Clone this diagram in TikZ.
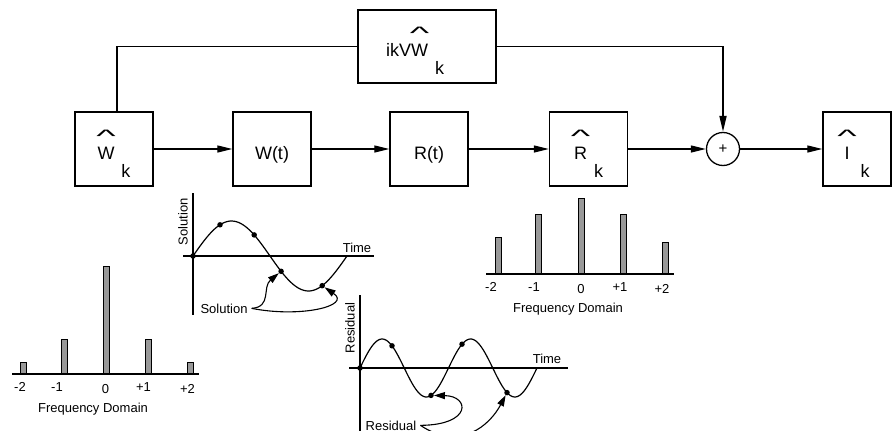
\documentclass[tikz,border=0pt]{standalone}
\usepackage{fontspec}
\setmainfont{Liberation Sans}
\usetikzlibrary{arrows.meta}

% letter with a wide hat and a low subscript k
\newcommand{\hatk}[3][7pt]{#2\ooalign{\hidewidth\raisebox{17pt}{\scalebox{2.3}[1]{\textasciicircum}}\hidewidth\cr#3\cr}\raisebox{-18pt}{\hspace{#1}k}}

\begin{document}
\begin{tikzpicture}[x=1pt, y=-1pt,
    blk/.style={draw, line width=1.3pt, inner sep=0pt, minimum width=78pt, minimum height=74pt, text height=30pt, text depth=10pt, font=\fontsize{18}{21}\selectfont},
    flow/.style={line width=1.1pt, -{Triangle[length=15pt,width=7pt]}},
    fb/.style={line width=1.8pt},
    axis/.style={line width=1.2pt},
    wave/.style={line width=1.2pt},
    dot/.style={circle, fill, inner sep=0pt, minimum size=5.5pt},
    bar/.style={draw, line width=0.9pt, fill=black!40},
    lbl/.style={font=\fontsize{13}{15}\selectfont, inner sep=0pt},
    ptr/.style={line width=1.1pt, -{Triangle[length=11pt,width=7pt]}}]
    \useasboundingbox (0,0) rectangle (892,431);

    % block chain
    \node[blk] (wk) at (114,149) {\hatk{}{W}};
    \node[blk] (wt) at (272,149) {W(t)};
    \node[blk] (rt) at (429,149) {R(t)};
    \node[blk] (rk) at (588.5,149) {\hatk{}{R}};
    \node[blk, minimum width=68pt] (ik) at (857,149) {\hatk[11pt]{}{I}};
    \node[blk, minimum width=138pt, minimum height=73pt] (ikv) at (427,46.5) {\hatk{ikV}{W}\hspace{24pt}\mbox{}};
    \node[draw, circle, line width=1.3pt, minimum size=33pt, inner sep=0pt, font=\fontsize{15}{17}\selectfont] (sum) at (723,149) {+};

    \draw[flow] (wk) -- (wt);
    \draw[flow] (wt) -- (rt);
    \draw[flow] (rt) -- (rk);
    \draw[flow] (rk) -- (sum);
    \draw[flow] (sum) -- (ik);
    \draw[fb] ([xshift=3pt]wk.north) |- (ikv.west);
    \draw[fb, -{Triangle[length=16pt,width=7pt]}] (ikv.east) -| (sum.north);

    % solution in time
    \draw[axis] (193,193) -- (193,315);
    \draw[axis] (183,256) -- (374,256);
    \node[lbl, rotate=90] (soly) at (183,222) {Solution};
    \node[lbl] (solx) at (357,248) {Time};
    \draw[wave] plot[domain=0:360, samples=72, smooth] ({193+\x/360*154},{256-35*sin(\x)});
    \node[dot] (s0) at (193,256) {};
    \node[dot] (s1) at (220,224.8) {};
    \node[dot] (s2) at (254.2,234.9) {};
    \node[dot] (s3) at (281.1,271.3) {};
    \node[dot] (s4) at (322.2,285.7) {};
    \node[lbl, anchor=base] (sollab) at (224,313) {Solution};
    \draw[ptr] ([xshift=4pt]sollab.east) .. controls (272,307) and (262,287) .. (s3);
    \draw[ptr] ([xshift=4pt]sollab.east) .. controls (300,318) and (352,306) .. (s4);

    % residual in time
    \draw[axis] (360,295) -- (360,440);
    \draw[axis] (349,368) -- (568,368);
    \node[lbl, rotate=90] (resy) at (350,328) {Residual};
    \node[lbl] (resx) at (547,359) {Time};
    \draw[wave] plot[domain=0:720, samples=120, smooth] ({360+\x/360*88.5},{368-29*sin(\x)});
    \node[dot] (r0) at (360,368) {};
    \node[dot] (r1) at (392,345.8) {};
    \node[dot] (r2) at (431,395.4) {};
    \node[dot] (r3) at (462,344.2) {};
    \node[dot] (r4) at (507,392.6) {};
    \node[lbl, anchor=base] (reslab) at (391,430) {Residual};
    \draw[ptr] ([xshift=4pt]reslab.east) .. controls (472,425) and (470,396) .. (r2);
    \draw[ptr] ([xshift=4pt]reslab.east) .. controls (460,452) and (490,425) .. (r4);

    % spectrum of the solution
    \draw[bar] (20,362) rectangle (26,374);
    \draw[bar] (61,339) rectangle (67,374);
    \draw[bar] (103,266) rectangle (109,374);
    \draw[bar] (145,339) rectangle (151,374);
    \draw[bar] (187,362) rectangle (193,374);
    \draw[axis] (12,374) -- (199,374);
    \node[lbl] (wm2) at (20,387) {-2};
    \node[lbl] (wm1) at (57,387) {-1};
    \node[lbl] (w0) at (105.5,389) {0};
    \node[lbl] (wp1) at (143.5,387) {+1};
    \node[lbl] (wp2) at (187.5,389) {+2};
    \node[lbl] (wfd) at (93,409) {Frequency Domain};

    % spectrum of the residual
    \draw[bar] (495,237) rectangle (501,274);
    \draw[bar] (535,214) rectangle (541,274);
    \draw[bar] (578,198) rectangle (584,274);
    \draw[bar] (620,214) rectangle (626,274);
    \draw[bar] (662,242) rectangle (668,274);
    \draw[axis] (486,274) -- (674,274);
    \node[lbl] (rm2) at (491,287) {-2};
    \node[lbl] (rm1) at (534,287) {-1};
    \node[lbl] (r00) at (581,289) {0};
    \node[lbl] (rp1) at (620,287) {+1};
    \node[lbl] (rp2) at (662,289) {+2};
    \node[lbl] (rfd) at (568,309) {Frequency Domain};
\end{tikzpicture}
\end{document}
